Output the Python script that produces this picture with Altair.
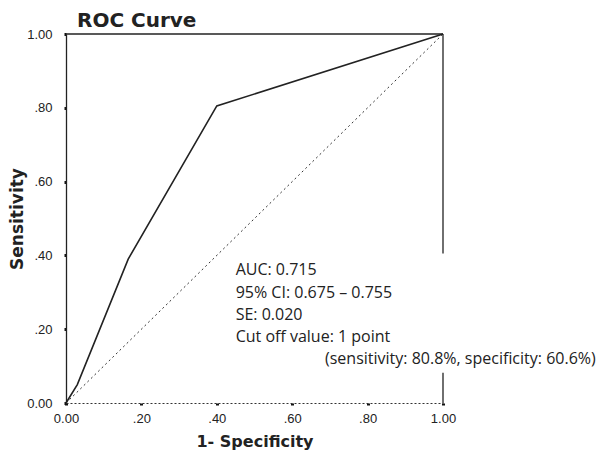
import altair as alt
import pandas as pd

# ROC curve points (1 - specificity, sensitivity)
fpr = [0.0, 0.03, 0.165, 0.40, 1.0]
tpr = [0.0, 0.05, 0.39, 0.805, 1.0]

# reference (chance) line
ref_x = [0.0, 1.0]
ref_y = [0.0, 1.0]

tick_values = [0.0, 0.2, 0.4, 0.6, 0.8, 1.0]

# annotation text lines with their anchor positions in data units
note_lines = ["AUC: 0.715", "95% CI: 0.675 \u2013 0.755", "SE: 0.020",
              "Cut off value: 1 point",
              "(sensitivity: 80.8%, specificity: 60.6%)"]
note_x = [0.45, 0.45, 0.45, 0.45, 0.687]
note_y = [0.36, 0.298, 0.238, 0.179, 0.119]

# right frame segments (interrupted by the annotation)
frame_y = [0.405, 0.0]
frame_y2 = [1.0, 0.082]

curve_df = pd.DataFrame({"x": fpr, "y": tpr})
ref_df = pd.DataFrame({"x": ref_x, "y": ref_y})
note_df = pd.DataFrame({"t": note_lines, "x": note_x, "y": note_y})
frame_df = pd.DataFrame({"y": frame_y, "y2": frame_y2})
top_df = pd.DataFrame({"x": [0.0], "x2": [1.0], "y": [1.0]})

label_expr = ("(datum.value > 0 && datum.value < 1) ? "
              "substring(format(datum.value, '.2f'), 1) : format(datum.value, '.2f')")

xscale = alt.Scale(domain=[0, 1], nice=False, zero=False)
yscale = alt.Scale(domain=[0, 1], nice=False, zero=False)

x_axis = alt.Axis(values=tick_values, labelExpr=label_expr, grid=False, labelFlush=False,
                  domainDash=[2, 2], domainColor="#333", domainWidth=1,
                  tickSize=2, tickWidth=3, tickColor="#111",
                  labelFont="Liberation Sans", labelFontSize=13, labelColor="#222",
                  labelPadding=7, title="1- Specificity",
                  titleFont="DejaVu Sans", titleFontSize=16, titleFontWeight="bold",
                  titleColor="#222", titlePadding=8)
y_axis = alt.Axis(values=tick_values, labelExpr=label_expr, grid=False, labelFlush=False,
                  domainColor="#222", domainWidth=1.3,
                  tickSize=2, tickWidth=3, tickColor="#111",
                  labelFont="Liberation Sans", labelFontSize=13, labelColor="#222",
                  labelPadding=12, title="Sensitivity",
                  titleFont="DejaVu Sans", titleFontSize=17, titleFontWeight="bold",
                  titleColor="#222", titlePadding=0)

ref_line = alt.Chart(ref_df).mark_line(color="#333", strokeWidth=1, strokeDash=[2, 3]).encode(
    x=alt.X("x:Q", scale=xscale, axis=x_axis),
    y=alt.Y("y:Q", scale=yscale, axis=y_axis),
)

curve = alt.Chart(curve_df).mark_line(color="#222", strokeWidth=1.6).encode(
    x=alt.X("x:Q", scale=xscale),
    y=alt.Y("y:Q", scale=yscale),
)

top_rule = alt.Chart(top_df).mark_rule(color="#222", strokeWidth=1.3).encode(
    x=alt.X("x:Q", scale=xscale), x2="x2:Q", y=alt.Y("y:Q", scale=yscale)
)

right_rule = alt.Chart(frame_df).mark_rule(color="#222", strokeWidth=1.3).encode(
    x=alt.datum(1.0), y=alt.Y("y:Q", scale=yscale), y2="y2:Q"
)

notes = alt.Chart(note_df).mark_text(align="left", baseline="middle", font="Open Sans",
                                     fontSize=16, color="#222").encode(
    x=alt.X("x:Q", scale=xscale), y=alt.Y("y:Q", scale=yscale), text="t:N"
)

chart = alt.layer(ref_line, curve, top_rule, right_rule, notes).properties(
    width=377, height=369,
    title=alt.TitleParams("ROC Curve", anchor="start", frame="group", dx=11, offset=-3,
                          font="DejaVu Sans", fontSize=20, fontWeight="bold",
                          color="#222"),
    autosize=alt.AutoSizeParams(type="none"),
    padding={"left": 58, "top": 26, "right": 153, "bottom": 47},
).configure_view(stroke=None)

chart.save("out.html", embed_options={"renderer": "svg", "actions": False})
